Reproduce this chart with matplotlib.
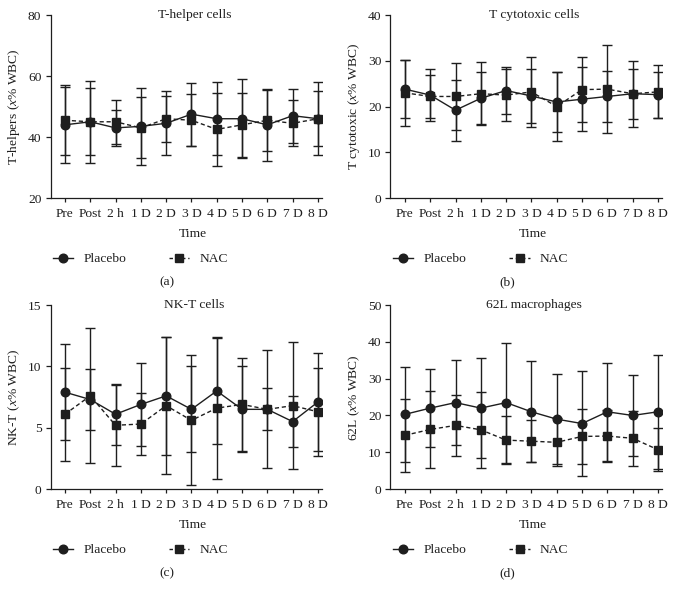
import matplotlib
matplotlib.use('Agg')
import matplotlib.pyplot as plt
import numpy as np
from matplotlib.lines import Line2D

# --- Data ---
time_labels = ['Pre', 'Post', '2 h', '1 D', '2 D', '3 D', '4 D', '5 D', '6 D', '7 D', '8 D']

# (a) T-helper cells
th_placebo = [44, 45, 43, 43.5, 44.5, 47.5, 46, 46, 44, 47, 46]
th_placebo_sd = [12.5, 13.5, 6, 12.6, 10.5, 10.3, 12, 13, 11.8, 8.8, 12]
th_nac = [45.5, 45, 45, 43, 46, 45.5, 42.5, 44, 45.5, 44.5, 46]
th_nac_sd = [11.5, 11, 7.3, 10, 7.5, 8.5, 12, 10.5, 10, 7.5, 9]

# (b) T cytotoxic cells
tc_placebo = [23.8, 22.5, 19.2, 21.8, 23.5, 22.3, 21, 21.6, 22.2, 22.8, 22.6]
tc_placebo_sd = [6.4, 5.7, 6.7, 5.7, 5.2, 6, 6.5, 7, 5.5, 5.5, 5]
tc_nac = [23, 22.2, 22.2, 22.8, 22.5, 23.2, 20, 23.7, 23.8, 22.8, 23.2]
tc_nac_sd = [7.2, 4.8, 7.3, 6.9, 5.7, 7.7, 7.5, 7.1, 9.6, 7.2, 5.8]

# (c) NK-T cells
nkt_placebo = [7.9, 7.3, 6.1, 6.9, 7.6, 6.5, 8.0, 6.5, 6.5, 5.5, 7.1]
nkt_placebo_sd = [3.9, 2.5, 2.5, 3.4, 4.8, 3.5, 4.3, 3.5, 4.8, 2.1, 4.0]
nkt_nac = [6.1, 7.6, 5.2, 5.3, 6.8, 5.6, 6.6, 6.9, 6.5, 6.8, 6.3]
nkt_nac_sd = [3.8, 5.5, 3.3, 2.5, 5.6, 5.3, 5.8, 3.8, 1.7, 5.2, 3.6]

# (d) 62L macrophages
m62_placebo = [20.3, 22, 23.5, 22, 23.5, 21, 19, 17.8, 21, 20, 21]
m62_placebo_sd = [13, 10.5, 11.5, 13.7, 16.3, 13.7, 12.3, 14.3, 13.4, 11.1, 15.5]
m62_nac = [14.6, 16.2, 17.3, 16.1, 13.3, 13, 12.7, 14.3, 14.4, 13.8, 10.7]
m62_nac_sd = [9.9, 10.5, 8.3, 10.4, 6.6, 5.7, 6.5, 7.4, 7.1, 7.5, 5.9]

panels = [
    ('T-helper cells', 'T-helpers ($x$% WBC)', th_placebo, th_placebo_sd, th_nac, th_nac_sd, (20, 80), [20, 40, 60, 80], '(a)'),
    ('T cytotoxic cells', 'T cytotoxic ($x$% WBC)', tc_placebo, tc_placebo_sd, tc_nac, tc_nac_sd, (0, 40), [0, 10, 20, 30, 40], '(b)'),
    ('NK-T cells', 'NK-T ($x$% WBC)', nkt_placebo, nkt_placebo_sd, nkt_nac, nkt_nac_sd, (0, 15), [0, 5, 10, 15], '(c)'),
    ('62L macrophages', '62L ($x$% WBC)', m62_placebo, m62_placebo_sd, m62_nac, m62_nac_sd, (0, 50), [0, 10, 20, 30, 40, 50], '(d)'),
]

# --- Style ---
plt.rcParams['font.family'] = ['Liberation Serif', 'DejaVu Serif']
plt.rcParams['mathtext.fontset'] = 'custom'
plt.rcParams['mathtext.rm'] = 'Liberation Serif'
plt.rcParams['mathtext.it'] = 'Liberation Serif:italic'
ink = '#1e1e1e'
fs = 9.7

fig = plt.figure(figsize=(6.79, 5.99), dpi=100)

# axes boxes in figure fractions: [left, bottom, width, height]
boxes = [
    [0.0744, 0.6694, 0.3998, 0.3055],
    [0.5751, 0.6694, 0.3998, 0.3055],
    [0.0744, 0.1836, 0.3998, 0.3070],
    [0.5751, 0.1836, 0.3998, 0.3070],
]
legend_anchor = [(0.078, 0.5676), (0.579, 0.5676), (0.078, 0.0818), (0.579, 0.0818)]
label_pos = [(0.246, 0.529), (0.747, 0.529), (0.246, 0.043), (0.747, 0.043)]

x = np.arange(len(time_labels))

for (title, ylabel, pl, pl_sd, nac, nac_sd, ylim, yticks, tag), box, lanc, lpos in zip(
        panels, boxes, legend_anchor, label_pos):
    ax = fig.add_axes(box)

    ax.errorbar(x, nac, yerr=nac_sd, color=ink, ecolor=ink, linestyle=(0, (3, 2)), linewidth=1,
                marker='s', markersize=6.2, elinewidth=1, capsize=3.5, capthick=1, zorder=3)
    ax.errorbar(x, pl, yerr=pl_sd, color=ink, ecolor=ink, linestyle='-', linewidth=1,
                marker='o', markersize=6.2, elinewidth=1, capsize=3.5, capthick=1, zorder=4)

    ax.set_xlim(-0.57, 10.16)
    ax.set_ylim(*ylim)
    ax.set_yticks(yticks)
    ax.set_xticks(x)
    ax.set_xticklabels(time_labels)

    for spine in ['top', 'right']:
        ax.spines[spine].set_visible(False)
    for spine in ['left', 'bottom']:
        ax.spines[spine].set_color(ink)
        ax.spines[spine].set_linewidth(0.9)
    ax.tick_params(axis='both', direction='out', length=3.5, width=0.9, colors=ink,
                   labelsize=fs, pad=3)
    ax.tick_params(axis='x', length=3, pad=4)

    ax.text(0.53, 1.0, title, transform=ax.transAxes, ha='center', va='center',
            fontsize=fs, color=ink)

    ax.set_ylabel(ylabel, fontsize=fs, color=ink)
    ax.yaxis.set_label_coords(-0.105, 0.5)
    ax.set_xlabel('Time', fontsize=fs, color=ink)
    ax.xaxis.set_label_coords(0.524, -0.165)

    handles = [
        Line2D([], [], color=ink, linestyle='-', linewidth=1, marker='o', markersize=6.2, label='Placebo'),
        Line2D([], [], color=ink, linestyle=(0, (2.5, 2)), linewidth=1, marker='s', markersize=6.2, label='NAC'),
    ]
    ax.legend(handles=handles, loc='center left', bbox_to_anchor=lanc, bbox_transform=fig.transFigure,
              ncol=2, frameon=False, fontsize=fs, borderpad=0, borderaxespad=0, handlelength=1.5,
              handletextpad=0.75, columnspacing=3.2, labelcolor=ink)

    fig.text(lpos[0], lpos[1], tag, ha='center', va='center', fontsize=fs, color=ink)

plt.savefig('out.png', dpi=100, facecolor='white')
